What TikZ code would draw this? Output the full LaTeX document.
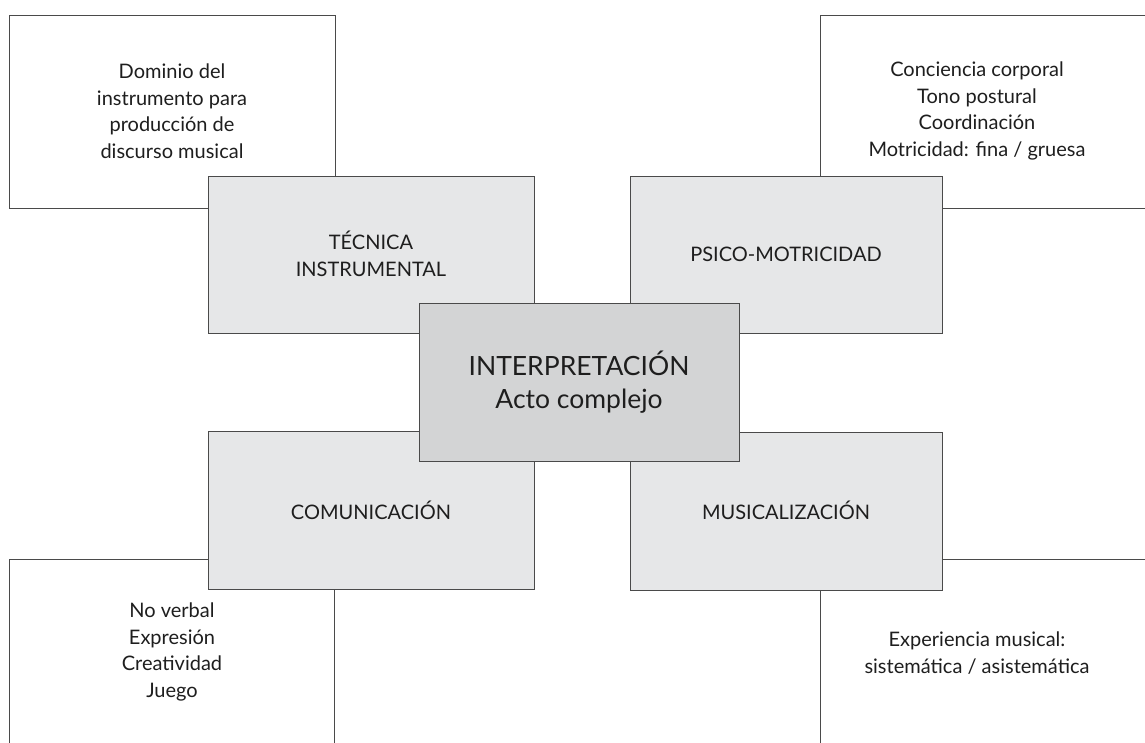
\documentclass[tikz,border=0pt]{standalone}
\usepackage{fontspec}
\setmainfont{Lato}
\definecolor{edge}{HTML}{4A4A4A}
\definecolor{lightfill}{HTML}{E6E7E8}
\definecolor{midfill}{HTML}{D3D4D5}
\definecolor{ink}{HTML}{1E1E1E}
\begin{document}
\begin{tikzpicture}[x=1pt,y=-1pt,
  box/.style={draw=edge,line width=1.2pt,rectangle,inner sep=0pt,anchor=north west},
  outerbox/.style={box,fill=white},
  areabox/.style={box,fill=lightfill},
  corebox/.style={box,fill=midfill},
  txt/.style={align=center,text=ink,font=\fontsize{20}{26.5}\selectfont,inner sep=0pt},
  bigtxt/.style={align=center,text=ink,font=\fontsize{26.5}{33}\selectfont,inner sep=0pt}]
\useasboundingbox (0,0) rectangle (1145,742);
\clip (0,0) rectangle (1145,742);
% outer white boxes
\node[outerbox,minimum width=326pt,minimum height=193pt] (tl) at (9,15) {};
\node[outerbox,minimum width=340pt,minimum height=193pt] (tr) at (820,15) {};
\node[outerbox,minimum width=325pt,minimum height=200pt] (bl) at (9,559) {};
\node[outerbox,minimum width=340pt,minimum height=200pt] (br) at (820,559) {};
% area boxes
\node[areabox,minimum width=326pt,minimum height=157pt] (tec) at (208,176) {};
\node[areabox,minimum width=312pt,minimum height=157pt] (psi) at (630,176) {};
\node[areabox,minimum width=326pt,minimum height=158pt] (com) at (208,431) {};
\node[areabox,minimum width=312pt,minimum height=158pt] (mus) at (630,432) {};
% central box
\node[corebox,minimum width=320pt,minimum height=158pt] (core) at (419,303) {};
% texts
\node[txt] (tlt) at (172,111) {Dominio del\\instrumento para\\producción de\\discurso musical};
\node[txt] (trt) at (977,111) {Conciencia corporal\\Tono postural\\Coordinación\\Motricidad: fina / gruesa};
\node[txt] (blt) at (172,652) {No verbal\\Expresión\\Creatividad\\Juego};
\node[txt] (brt) at (977,653) {Experiencia musical:\\sistemática / asistemática};
\node[txt] (tect) at (371,254) {TÉCNICA\\INSTRUMENTAL};
\node[txt] (psit) at (786,254) {PSICO-MOTRICIDAD};
\node[txt] (comt) at (371,510) {COMUNICACIÓN};
\node[txt] (must) at (786,510) {MUSICALIZACIÓN};
\node[bigtxt] (coret) at (579,382) {INTERPRETACIÓN\\Acto complejo};
\end{tikzpicture}
\end{document}
